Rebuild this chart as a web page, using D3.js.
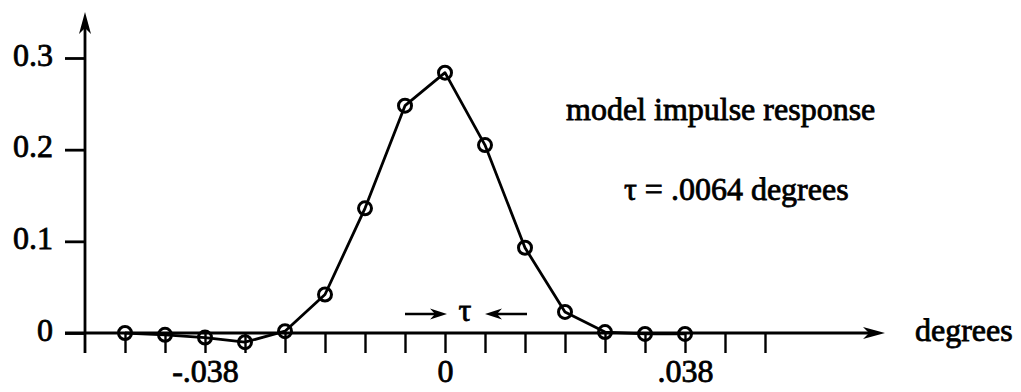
<!DOCTYPE html>
<html>
<head>
<meta charset="utf-8">
<script src="https://cdn.jsdelivr.net/npm/d3@7/dist/d3.min.js"></script>
<style>
  body { margin: 0; background: #fff; }
  svg { display: block; }
  text { font-family: "Liberation Serif", "Times New Roman", serif; fill: #000; stroke: #000; stroke-width: 0.8px; }
</style>
</head>
<body>
<svg id="chart" width="1021" height="392"></svg>
<script>
// Sample spacing of the model (degrees)
const TAU = 0.0064;

// Impulse response samples, indexed in units of TAU
const sampleSteps = [-8, -7, -6, -5, -4, -3, -2, -1, 0, 1, 2, 3, 4, 5, 6];
const responseValues = [0.000, -0.002, -0.005, -0.010, 0.002, 0.042, 0.136, 0.248, 0.284, 0.205, 0.093, 0.023, 0.001, -0.001, -0.001];

// Axis ticks and labels
const xTickSteps = [-8, -7, -6, -5, -4, -3, -2, -1, 0, 1, 2, 3, 4, 5, 6, 7, 8];
const xLabelSteps = [-6, 0, 6];
const xLabelText = ["-.038", "0", ".038"];
const yTickValues = [0, 0.1, 0.2, 0.3];
const yTickLabels = ["0", "0.1", "0.2", "0.3"];

const FONT = 32;
const INK = 2.8;
const svg = d3.select("#chart");

const x = d3.scaleLinear().domain([-9 * TAU, 11 * TAU]).range([85, 885]);
const y = d3.scaleLinear().domain([0, 0.3]).range([333, 58]);

const x0 = x(-9 * TAU);   // vertical axis position
const y0 = y(0);          // horizontal axis position

// ---- horizontal axis: ticks below, line with arrow to the right ----
const xAxis = d3.axisBottom(x)
  .tickValues(xTickSteps.map(s => s * TAU))
  .tickSize(20)
  .tickSizeOuter(0)
  .tickFormat(d => {
    const step = Math.round(d / TAU);
    const k = xLabelSteps.indexOf(step);
    return k >= 0 ? xLabelText[k] : "";
  });

const gx = svg.append("g").attr("transform", `translate(0,${y0})`).call(xAxis);
gx.select(".domain").remove();
gx.selectAll(".tick line").attr("stroke", "#000").attr("stroke-width", 2.4);
gx.selectAll(".tick text")
  .attr("font-size", FONT)
  .attr("y", 49)
  .attr("dy", null)
  .attr("fill", "#000");

svg.append("line")
  .attr("x1", x0 - 20).attr("x2", x(11 * TAU) - 8)
  .attr("y1", y0).attr("y2", y0)
  .attr("stroke", "#000").attr("stroke-width", INK);

const xTip = x(11 * TAU);
svg.append("path")
  .attr("d", `M${xTip},${y0} L${xTip - 22},${y0 - 6} L${xTip - 16},${y0} L${xTip - 22},${y0 + 6} Z`)
  .attr("fill", "#000");

svg.append("text")
  .attr("x", 915).attr("y", y0 + 8)
  .attr("font-size", FONT)
  .text("degrees");

// ---- vertical axis: ticks to the left, line with arrow upward ----
const yAxis = d3.axisLeft(y)
  .tickValues(yTickValues)
  .tickSize(20)
  .tickSizeOuter(0)
  .tickPadding(12)
  .tickFormat((d, i) => yTickLabels[i]);

const gy = svg.append("g").attr("transform", `translate(${x0},0)`).call(yAxis);
gy.select(".domain").remove();
gy.selectAll(".tick line").attr("stroke", "#000").attr("stroke-width", INK);
gy.selectAll(".tick text")
  .attr("font-size", FONT)
  .attr("dy", "0.22em")
  .attr("fill", "#000");

const yTop = 12;
svg.append("line")
  .attr("x1", x0).attr("x2", x0)
  .attr("y1", y0 + 20).attr("y2", yTop + 8)
  .attr("stroke", "#000").attr("stroke-width", INK);

svg.append("path")
  .attr("d", `M${x0},${yTop} L${x0 - 6},${yTop + 22} L${x0},${yTop + 16} L${x0 + 6},${yTop + 22} Z`)
  .attr("fill", "#000");

// ---- response curve with open circle markers ----
const points = sampleSteps.map((s, i) => ({ t: s * TAU, v: responseValues[i] }));

svg.append("path")
  .datum(points)
  .attr("fill", "none")
  .attr("stroke", "#000")
  .attr("stroke-width", INK)
  .attr("stroke-linejoin", "round")
  .attr("d", d3.line().x(d => x(d.t)).y(d => y(d.v)));

svg.append("g")
  .selectAll("circle")
  .data(points)
  .join("circle")
  .attr("cx", d => x(d.t))
  .attr("cy", d => y(d.v))
  .attr("r", 6.5)
  .attr("fill", "none")
  .attr("stroke", "#000")
  .attr("stroke-width", 3);

// ---- spacing marker between samples 0 and 1 ----
const annY = 314;
function arrow(from, to) {
  const dir = Math.sign(to - from);
  svg.append("line")
    .attr("x1", from).attr("x2", to - dir * 8)
    .attr("y1", annY).attr("y2", annY)
    .attr("stroke", "#000").attr("stroke-width", 2.6);
  svg.append("path")
    .attr("d", `M${to},${annY} L${to - dir * 17},${annY - 5.5} L${to - dir * 12},${annY} L${to - dir * 17},${annY + 5.5} Z`)
    .attr("fill", "#000");
}
arrow(x(0) - 40, x(0) + 2);
arrow(x(TAU) + 42, x(TAU));

svg.append("text")
  .attr("x", x(TAU / 2)).attr("y", 321)
  .attr("text-anchor", "middle")
  .attr("font-size", FONT)
  .text("τ");

// ---- caption ----
svg.append("text")
  .attr("x", 566).attr("y", 120)
  .attr("font-size", FONT)
  .text("model impulse response");

svg.append("text")
  .attr("x", 624).attr("y", 200)
  .attr("font-size", FONT)
  .text("τ = .0064 degrees");
</script>
</body>
</html>
